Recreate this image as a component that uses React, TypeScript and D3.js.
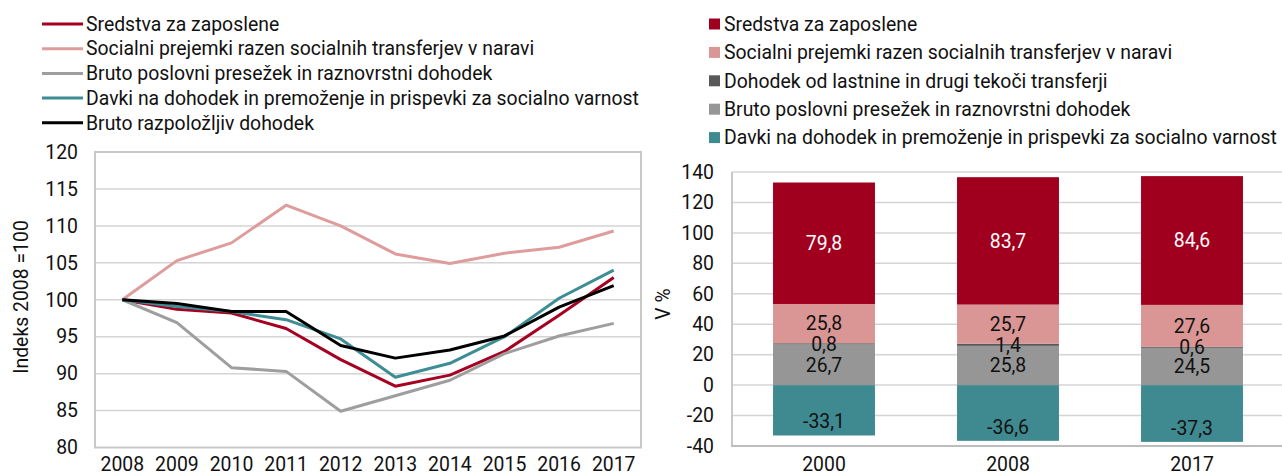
import React from 'react';
import * as d3 from 'd3';

// line chart: index 2008 = 100
const years = ['2008', '2009', '2010', '2011', '2012', '2013', '2014', '2015', '2016', '2017'];
const sredstva = [100, 98.7, 98.2, 96.1, 91.9, 88.3, 89.8, 93.0, 97.9, 103.0];
const socialni = [100, 105.3, 107.7, 112.8, 110.0, 106.2, 104.9, 106.3, 107.1, 109.3];
const bruto = [100, 96.9, 90.8, 90.3, 84.9, 87.0, 89.1, 92.7, 95.1, 96.8];
const davki = [100, 99.1, 98.4, 97.3, 94.7, 89.5, 91.4, 95.0, 100.2, 104.0];
const razpolozljiv = [100, 99.5, 98.4, 98.4, 93.8, 92.1, 93.2, 95.1, 99.0, 101.9];
const lineTicks = [80, 85, 90, 95, 100, 105, 110, 115, 120];

// stacked bars: structure in %
const barYears = ['2000', '2008', '2017'];
const sredstvaBar = [79.8, 83.7, 84.6];
const socialniBar = [25.8, 25.7, 27.6];
const dohodekBar = [0.8, 1.4, 0.6];
const brutoBar = [26.7, 25.8, 24.5];
const davkiBar = [-33.1, -36.6, -37.3];
const barTicks = [-40, -20, 0, 20, 40, 60, 80, 100, 120, 140];

const FONT = 'Roboto, "Noto Sans", sans-serif';
const FS = 19.4;
const GRID = '#D4D4D4';

const lineSeries = [
  { name: 'Sredstva za zaposlene', values: sredstva, color: '#A50021' },
  { name: 'Socialni prejemki razen socialnih transferjev v naravi', values: socialni, color: '#DE9C9C' },
  { name: 'Bruto poslovni presežek in raznovrstni dohodek', values: bruto, color: '#9E9E9E' },
  { name: 'Davki na dohodek in premoženje in prispevki za socialno varnost', values: davki, color: '#3E8C94' },
  { name: 'Bruto razpoložljiv dohodek', values: razpolozljiv, color: '#000000' },
];

const barKeys = [
  { key: 'bruto', name: 'Bruto poslovni presežek in raznovrstni dohodek', values: brutoBar, color: '#969696', text: '#111' },
  { key: 'dohodek', name: 'Dohodek od lastnine in drugi tekoči transferji', values: dohodekBar, color: '#595959', text: '#111' },
  { key: 'socialni', name: 'Socialni prejemki razen socialnih transferjev v naravi', values: socialniBar, color: '#DA9694', text: '#111' },
  { key: 'sredstva', name: 'Sredstva za zaposlene', values: sredstvaBar, color: '#A0001E', text: '#fff' },
  { key: 'davki', name: 'Davki na dohodek in premoženje in prispevki za socialno varnost', values: davkiBar, color: '#3F8A90', text: '#111' },
];
const barLegendOrder = ['sredstva', 'socialni', 'dohodek', 'bruto', 'davki'];

const fmt = (v: number) => String(v).replace('.', ',');

function LineChart() {
  const x = d3.scaleBand().domain(years).range([95, 641]);
  const y = d3.scaleLinear().domain([80, 120]).range([447.5, 152]);
  const line = d3.line<number>()
    .x((_, i) => (x(years[i]) as number) + x.bandwidth() / 2)
    .y(d => y(d));

  return (
    <g>
      {lineSeries.map((s, i) => (
        <g key={s.name}>
          <line x1={42} x2={83} y1={24 + i * 24.7} y2={24 + i * 24.7} stroke={s.color} strokeWidth={3} />
          <text x={86} y={24 + i * 24.7} dy="0.35em" fontSize={FS} fill="#111">{s.name}</text>
        </g>
      ))}
      {lineTicks.slice(1, -1).map(t => (
        <line key={t} x1={95} x2={641} y1={y(t)} y2={y(t)} stroke={GRID} strokeWidth={1.5} />
      ))}
      <rect x={95} y={y(120)} width={546} height={y(80) - y(120)} fill="none" stroke="#C8C8C8" strokeWidth={2} />
      {lineTicks.map(t => (
        <text key={t} x={78} y={y(t)} dy="0.35em" textAnchor="end" fontSize={FS} fill="#111">{t}</text>
      ))}
      {years.map(yr => (
        <text key={yr} x={(x(yr) as number) + x.bandwidth() / 2} y={464} dy="0.35em" textAnchor="middle" fontSize={FS} fill="#111">{yr}</text>
      ))}
      <text transform="translate(21,297) rotate(-90)" dy="0.35em" textAnchor="middle" fontSize={FS} fill="#111">Indeks 2008 =100</text>
      {lineSeries.map(s => (
        <path key={s.name} d={line(s.values) || ''} fill="none" stroke={s.color} strokeWidth={3} strokeLinejoin="round" />
      ))}
    </g>
  );
}

function BarChart() {
  const x = d3.scaleBand().domain(barYears).range([732, 1284]).paddingInner(0.446).paddingOuter(0.223);
  const y = d3.scaleLinear().domain([-40, 140]).range([446, 172]);
  const rows = barYears.map((yr, i) => {
    const r: Record<string, any> = { year: yr };
    barKeys.forEach(k => { r[k.key] = k.values[i]; });
    return r;
  });
  const stack = d3.stack<any>().keys(barKeys.map(k => k.key)).offset(d3.stackOffsetDiverging);
  const layers = stack(rows);

  return (
    <g>
      {barLegendOrder.map((key, i) => {
        const k = barKeys.find(b => b.key === key)!;
        const cy = 24 + i * 28.4;
        return (
          <g key={key}>
            <rect x={709} y={cy - 5.5} width={11} height={11} fill={k.color} />
            <text x={724} y={cy} dy="0.35em" fontSize={FS} fill="#111">{k.name}</text>
          </g>
        );
      })}
      {barTicks.filter(t => t > -40).map(t => (
        <line key={t} x1={732} x2={1282} y1={y(t)} y2={y(t)} stroke={GRID} strokeWidth={1.5} />
      ))}
      <line x1={732} x2={732} y1={y(140)} y2={y(-40)} stroke="#C8C8C8" strokeWidth={2} />
      <line x1={731} x2={1282} y1={y(-40)} y2={y(-40)} stroke="#BDBDBD" strokeWidth={2} />
      {barTicks.map(t => (
        <text key={t} x={714} y={y(t)} dy="0.35em" textAnchor="end" fontSize={FS} fill="#111">{t}</text>
      ))}
      {barYears.map(yr => (
        <text key={yr} x={(x(yr) as number) + x.bandwidth() / 2} y={464} dy="0.35em" textAnchor="middle" fontSize={FS} fill="#111">{yr}</text>
      ))}
      <text transform="translate(663,304) rotate(-90)" dy="0.35em" textAnchor="middle" fontSize={FS} fill="#111">V %</text>
      {layers.map((layer, li) => {
        const k = barKeys[li];
        return (
          <g key={k.key}>
            {layer.map((d, i) => (
              <rect key={i} x={x(barYears[i])} y={y(Math.max(d[0], d[1]))} width={x.bandwidth()}
                height={Math.abs(y(d[0]) - y(d[1]))} fill={k.color} />
            ))}
          </g>
        );
      })}
      {layers.map((layer, li) => {
        const k = barKeys[li];
        return (
          <g key={k.key + '-lab'}>
            {layer.map((d, i) => {
              const v = k.values[i];
              const cy = v < 0 ? y(d[0]) - 14 : y((d[0] + d[1]) / 2);
              return (
                <text key={i} x={(x(barYears[i]) as number) + x.bandwidth() / 2} y={cy} dy="0.35em"
                  textAnchor="middle" fontSize={FS} fill={k.text}>{fmt(v)}</text>
              );
            })}
          </g>
        );
      })}
    </g>
  );
}

export default function App() {
  return (
    <svg width={1282} height={473} style={{ position: 'absolute', left: 0, top: 0, background: '#fff' }} fontFamily={FONT}>
      <rect width={1282} height={473} fill="#fff" />
      <LineChart />
      <BarChart />
    </svg>
  );
}
